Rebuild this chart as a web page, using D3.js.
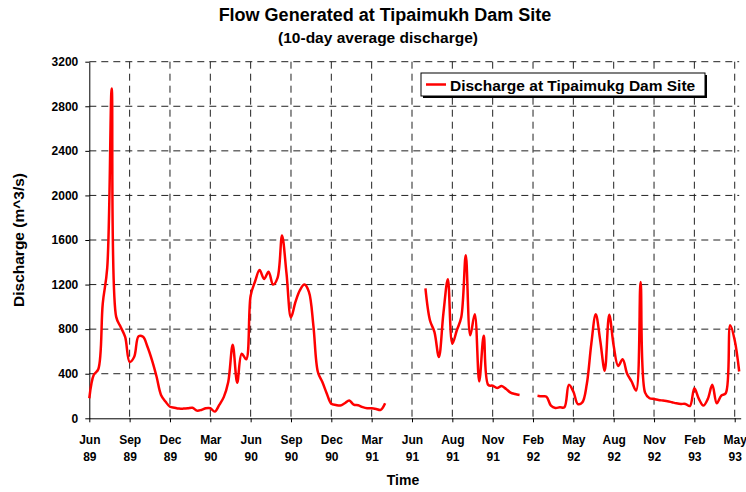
<!DOCTYPE html>
<html>
<head>
<meta charset="utf-8">
<script src="https://cdn.jsdelivr.net/npm/d3@7"></script>
<style>
  body { margin: 0; background: #fff; }
  svg text { font-family: "Liberation Sans", Arial, sans-serif; font-weight: bold; fill: #000; }
</style>
</head>
<body>
<div id="chart"></div>
<script>
// 10-day average discharge (m^3/s), one value per 10-day period; null = no data
var discharge = [
  180, 390, 440, 1030, 1350, 2960, 910, 820, 730, 505,
  550, 737, 731, 640, 520, 375, 210, 150, 104, 95,
  87, 87, 90, 95, 69, 75, 90, 90, 60, 120,
  190, 325, 660, 320, 580, 530, 1100, 1230, 1330, 1250,
  1315, 1200, 1260, 1640, 1300, 905, 1045, 1150, 1200, 1135,
  830, 415, 325, 220, 130, 120, 115, 135, 159, 123,
  117, 100, 90, 90, 84, 75, 135, null, null, null,
  null, null, null, null, null, 1165, 880, 775, 550, 940,
  1248, 670, 790, 910, 1464, 745, 934, 331, 740, 300,
  292, 272, 290, 263, 230, 218, 210, null, null, null,
  203, 197, 194, 113, 93, 99, 99, 300, 240, 128,
  143, 307, 666, 934, 696, 427, 930, 650, 470, 530,
  400, 330, 250, 1224, 230, 180, 174, 165, 159, 153,
  144, 135, 129, 129, 110, 270, 174, 114, 174, 300,
  135, 204, 225, 834, 700, 420
];
var monthLabels = ["Jun","Sep","Dec","Mar","Jun","Sep","Dec","Mar","Jun","Aug","Nov","Feb","May","Aug","Nov","Feb","May"];
var yearLabels  = ["89","89","89","90","90","90","90","91","91","91","91","92","92","92","92","93","93"];
var labelStep = 9; // one label every 9 periods
var yTicks = [0, 400, 800, 1200, 1600, 2000, 2400, 2800, 3200];

var width = 746, height = 492;
var plot = {left: 89.3, top: 61.7, bottom: 418.3, step: 4.482};

var svg = d3.select("#chart").append("svg")
  .attr("width", width)
  .attr("height", height);

var x = d3.scaleLinear()
  .domain([0, discharge.length - 1])
  .range([plot.left, plot.left + plot.step * (discharge.length - 1)]);
var y = d3.scaleLinear()
  .domain([0, 3200])
  .range([plot.bottom, plot.top]);

var tickIdx = monthLabels.map(function(d, i) { return i * labelStep; });

// dashed grid
svg.append("g")
  .attr("class", "hgrid")
  .selectAll("line")
  .data(yTicks.slice(1))
  .enter().append("line")
  .attr("x1", plot.left).attr("x2", x.range()[1])
  .attr("y1", function(d) { return y(d); })
  .attr("y2", function(d) { return y(d); })
  .style("stroke", "#222")
  .style("stroke-dasharray", "7,5");

svg.append("g")
  .attr("class", "vgrid")
  .selectAll("line")
  .data(tickIdx.slice(1))
  .enter().append("line")
  .attr("x1", function(d) { return x(d); })
  .attr("x2", function(d) { return x(d); })
  .attr("y1", plot.top).attr("y2", plot.bottom)
  .style("stroke", "#222")
  .style("stroke-dasharray", "7,5");

// axes
var xAxis = svg.append("g")
  .attr("transform", "translate(0," + plot.bottom + ")")
  .call(d3.axisBottom(x).tickValues(tickIdx).tickSize(4).tickSizeOuter(0).tickFormat(""));
xAxis.select(".domain").attr("d", "M" + plot.left + ",0.5H" + (x.range()[1] + 2));
xAxis.selectAll(".tick").append("text")
  .attr("text-anchor", "middle")
  .attr("font-size", 12)
  .attr("y", 26)
  .each(function(d, i) {
    var t = d3.select(this);
    t.append("tspan").attr("x", 0).text(monthLabels[i]);
    t.append("tspan").attr("x", 0).attr("dy", 17).text(yearLabels[i]);
  });

var yAxis = svg.append("g")
  .attr("transform", "translate(" + plot.left + ",0)")
  .call(d3.axisLeft(y).tickValues(yTicks).tickSize(4).tickSizeOuter(0).tickFormat(d3.format("d")));
yAxis.selectAll("text").attr("font-size", 12).attr("x", -11);

// the series, with gaps where data is missing
var line = d3.line()
  .defined(function(d) { return d !== null; })
  .x(function(d, i) { return x(i); })
  .y(function(d) { return y(d); })
  .curve(d3.curveCatmullRom);

svg.append("path")
  .datum(discharge)
  .attr("d", line)
  .style("fill", "none")
  .style("stroke", "#ff0000")
  .style("stroke-width", 2.5)
  .style("stroke-linejoin", "round");

// titles
svg.append("text").attr("x", 385).attr("y", 21).attr("text-anchor", "middle")
  .attr("font-size", 18).text("Flow Generated at Tipaimukh Dam Site");
svg.append("text").attr("x", 378).attr("y", 43).attr("text-anchor", "middle")
  .attr("font-size", 15.5).text("(10-day average discharge)");
svg.append("text").attr("x", 403).attr("y", 485).attr("text-anchor", "middle")
  .attr("font-size", 14).text("Time");
svg.append("text").attr("transform", "translate(24,240) rotate(-90)").attr("text-anchor", "middle")
  .attr("font-size", 15.5).text("Discharge (m^3/s)");

// legend with shadow
var leg = svg.append("g").attr("transform", "translate(421,73)");
leg.append("rect").attr("x", 2).attr("y", 2).attr("width", 284).attr("height", 23).style("fill", "#000");
leg.append("rect").attr("width", 284).attr("height", 23).style("fill", "#fff").style("stroke", "#000");
leg.append("line").attr("x1", 5).attr("x2", 25).attr("y1", 11.5).attr("y2", 11.5)
  .style("stroke", "#ff0000").style("stroke-width", 2.5);
leg.append("text").attr("x", 29).attr("y", 17.5).attr("font-size", 15.5).text("Discharge at Tipaimukg Dam Site");
</script>
</body>
</html>
